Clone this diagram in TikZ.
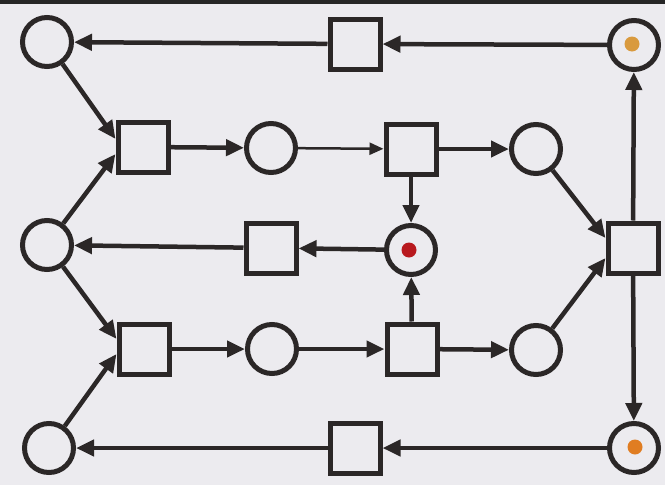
\documentclass[tikz,border=0pt]{standalone}
\usetikzlibrary{arrows.meta,calc}
\definecolor{ink}{HTML}{2B2727}
\definecolor{paper}{HTML}{ECEBEF}
\definecolor{tokred}{HTML}{B8191E}
\definecolor{tokorange}{HTML}{D99A3E}
\definecolor{tokorangeb}{HTML}{E07D22}
\begin{document}
\begin{tikzpicture}[x=1pt,y=-1pt,
  place/.style={circle,draw=ink,line width=5pt,minimum size=49pt,inner sep=0pt,fill=paper},
  trans/.style={rectangle,draw=ink,line width=5pt,minimum size=50pt,inner sep=0pt,fill=paper},
  arc/.style={draw=ink,line width=4.5pt,-{Triangle[length=18pt,width=16pt]}},
  thinarc/.style={draw=ink,line width=2.5pt,-{Triangle[length=14pt,width=12pt]}},
  token/.style={circle,inner sep=0pt,minimum size=15pt}]
\fill[paper] (0,0) rectangle (665,485);
\useasboundingbox (0,0) rectangle (665,485);
\fill[black!85] (0,0) rectangle (665,3.5);
% nodes
\node[place] (Ptl) at (47,42) {};
\node[trans] (Ttop) at (355,44) {};
\node[place] (Ptr) at (634,45) {};
\node[trans] (T1) at (143,147) {};
\node[place] (P2) at (271,148) {};
\node[trans] (T2) at (411,149) {};
\node[place] (P3) at (536,149) {};
\node[place] (Pml) at (47,245) {};
\node[trans] (Tmid) at (271,248) {};
\node[place] (Pred) at (411,250) {};
\node[trans] (Tr) at (633,248) {};
\node[trans] (T3) at (144,349) {};
\node[place] (P4) at (272,349) {};
\node[trans] (T4) at (412,349) {};
\node[place] (P5) at (536,350) {};
\node[place] (Pbl) at (49,448) {};
\node[trans] (Tbot) at (355,448) {};
\node[place] (Pbr) at (634,448) {};
% tokens
\node[token,fill=tokred] (k1) at (409,250) {};
\node[token,fill=tokorange] (k2) at (632,44) {};
\node[token,fill=tokorangeb] (k3) at (635,447) {};
% arcs
\draw[arc] (Ptr) -- (Ttop);
\draw[arc] (Ttop) -- (Ptl);
\draw[arc] (Ptl) -- ($(T1.west)+(0,-8)$);
\draw[arc] (Pml) -- ($(T1.west)+(0,7)$);
\draw[arc] (T1) -- (P2);
\draw[thinarc] (P2) -- (T2);
\draw[arc] (T2) -- (P3);
\draw[arc] (T2) -- (Pred);
\draw[arc] (P3) -- ($(Tr.west)+(0,-10)$);
\draw[arc] (P5) -- ($(Tr.west)+(0,10)$);
\draw[arc] (Pred) -- (Tmid);
\draw[arc] (Tmid) -- (Pml);
\draw[arc] (Tr) -- (Ptr);
\draw[arc] (Tr) -- (Pbr);
\draw[arc] (Pml) -- ($(T3.west)+(0,-10)$);
\draw[arc] (Pbl) -- ($(T3.west)+(0,5)$);
\draw[arc] (T3) -- (P4);
\draw[arc] (P4) -- (T4);
\draw[arc] (T4) -- (P5);
\draw[arc] (T4) -- (Pred);
\draw[arc] (Pbr) -- (Tbot);
\draw[arc] (Tbot) -- (Pbl);
\end{tikzpicture}
\end{document}
